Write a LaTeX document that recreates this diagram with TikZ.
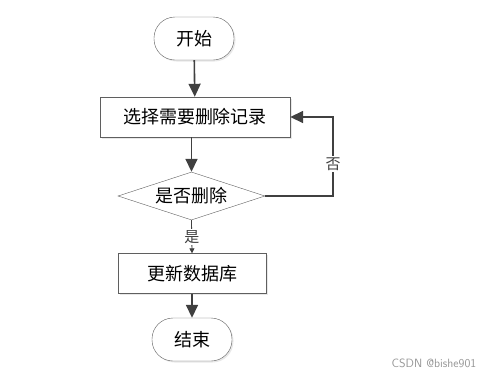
\documentclass[tikz,border=0pt]{standalone}
\usepackage{fontspec}
\newfontfamily\cjk{Noto Sans CJK SC}
\usepackage{tikz}
\usetikzlibrary{shapes.geometric, arrows.meta, shadows}
\definecolor{FCLine}{RGB}{64,64,64}
\definecolor{FCBorder}{RGB}{95,95,95}
\definecolor{FCMark}{RGB}{150,150,150}

\begin{document}
\begin{tikzpicture}[x=1pt, y=-1pt,
          term/.style={rectangle, rounded corners=21pt, draw=FCBorder,
                       fill=white, minimum width=80pt, minimum height=43pt,
                       font=\cjk\fontsize{18}{21}\selectfont,
                       drop shadow={shadow xshift=1.5pt, shadow yshift=-1.5pt,
                                    opacity=0.18, fill=gray}},
          proc/.style={rectangle, draw=FCBorder, fill=white,
                       minimum height=40pt,
                       font=\cjk\fontsize{18}{21}\selectfont,
                       drop shadow={shadow xshift=1.5pt, shadow yshift=-1.5pt,
                                    opacity=0.18, fill=gray}},
          dec/.style={diamond, aspect=3, inner sep=0pt, draw=FCBorder,
                      fill=white, minimum width=147pt, minimum height=48pt,
                      font=\cjk\fontsize{18}{21}\selectfont},
          arr/.style={-{Triangle[length=13pt, width=12pt]}, line width=1.6pt,
                      FCLine},
          thin/.style={-{Triangle[length=5pt, width=5pt]}, line width=0.8pt,
                       FCLine},
          lbl/.style={fill=white, inner sep=1.5pt,
                      font=\cjk\fontsize{15}{17}\selectfont}
        ]
        \useasboundingbox (0,0) rectangle (499,384);

        \node[term] (start) at (194, 38.5) {开始};
        \node[proc, minimum width=190pt] (pick) at (195, 117) {选择需要删除记录};
        \node[dec] (ask) at (191.5, 196) {是否删除};
        \node[proc, minimum width=148pt] (upd) at (192, 273.5) {更新数据库};
        \node[term] (stop) at (192, 339.5) {结束};

        \coordinate (bend) at (333, 196);
        \draw[arr] (start) -- (pick);
        \draw[arr] (pick.south -| ask.north) -- (ask.north);
        \draw[arr] (upd) -- (stop);
        \draw[arr] (ask.east) -- (bend) |- (pick.east)
              node[lbl, pos=0.2] {否};
        \draw[thin] (ask.south) -- (upd.north)
              node[lbl, midway] {是};

        % watermark
        \node[font=\fontsize{12}{14}\selectfont\sffamily, text=FCMark]
              (mark) at (434, 363) {CSDN @bishe901};
      \end{tikzpicture}
\end{document}
